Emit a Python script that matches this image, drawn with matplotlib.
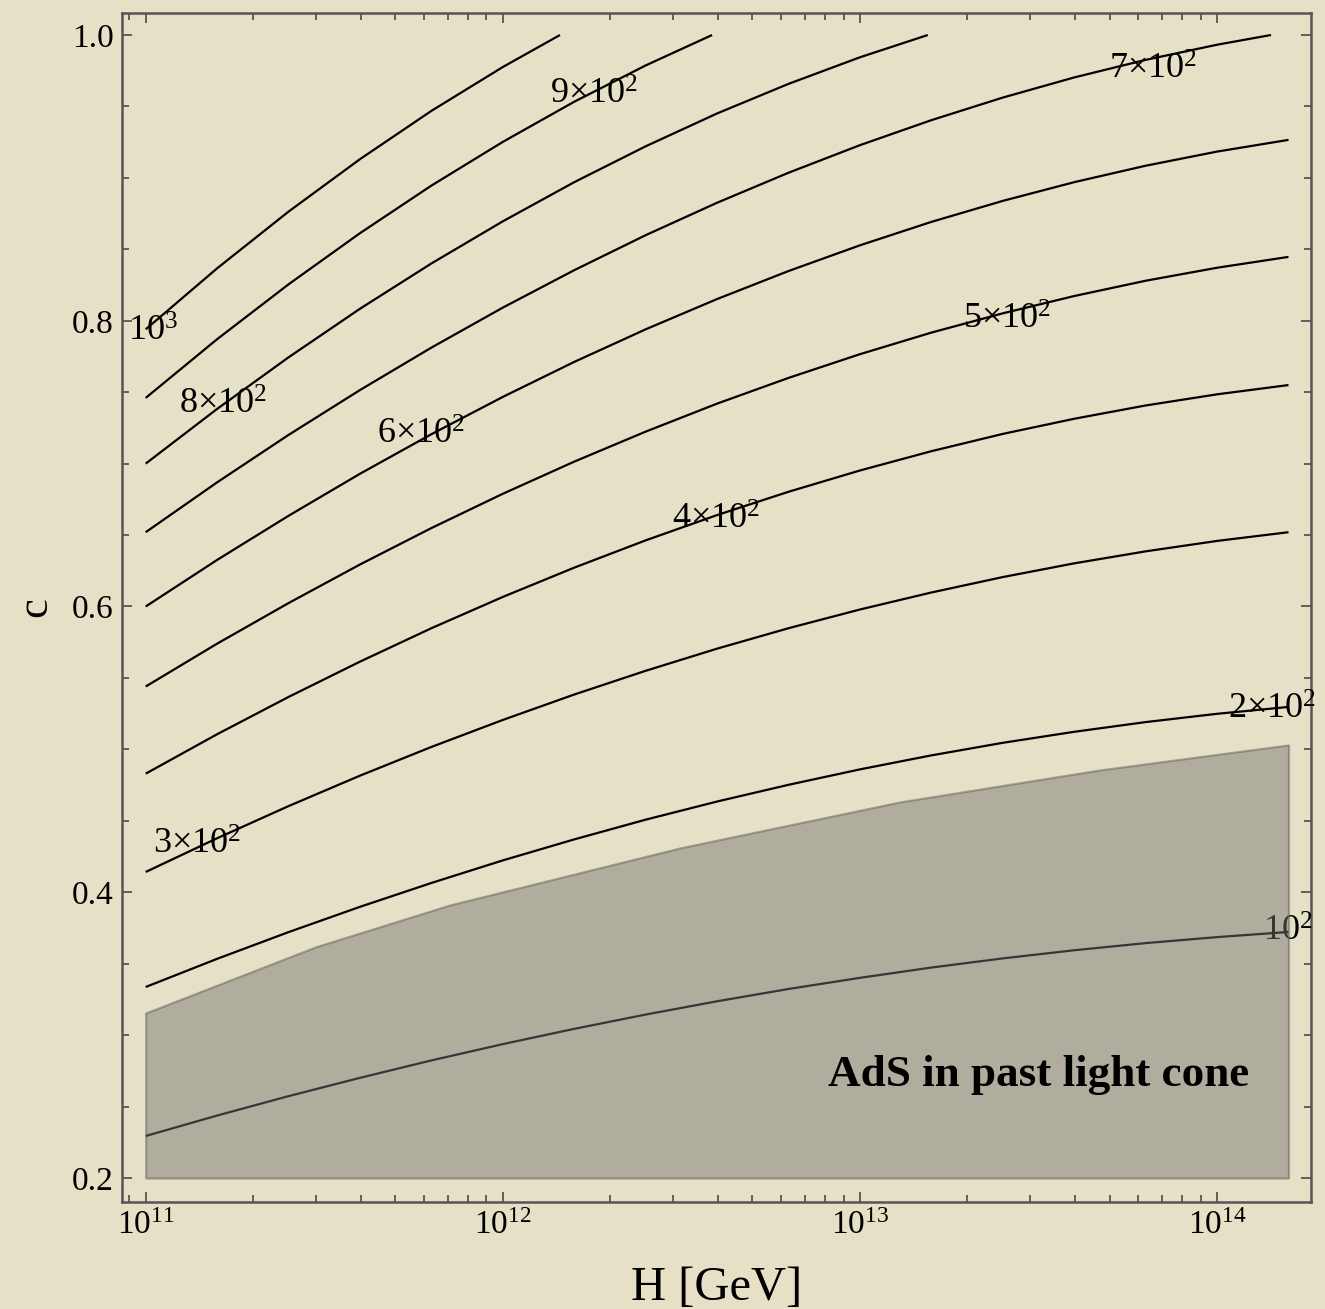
import matplotlib
matplotlib.use('Agg')
import numpy as np
import matplotlib.pyplot as plt
from matplotlib.ticker import FixedLocator, NullFormatter, MultipleLocator, FixedFormatter

plt.rcParams['font.family'] = ['Liberation Serif', 'DejaVu Serif']
plt.rcParams['mathtext.fontset'] = 'custom'
plt.rcParams['mathtext.rm'] = 'Liberation Serif'
plt.rcParams['mathtext.it'] = 'Liberation Serif:italic'
plt.rcParams['mathtext.bf'] = 'Liberation Serif:bold'

# ---- data (log10 H [GeV], c) ----
logH_grid = [11.0, 11.2, 11.4, 11.6, 11.8, 12.0, 12.2, 12.4, 12.6, 12.8,
             13.0, 13.2, 13.4, 13.6, 13.8, 14.0, 14.2]

logH_1000 = [11.0, 11.2, 11.4, 11.6, 11.8, 12.0, 12.16]
c_1000 = [0.794, 0.8367, 0.8764, 0.9131, 0.9469, 0.9776, 1.0]

logH_900 = [11.0, 11.2, 11.4, 11.6, 11.8, 12.0, 12.2, 12.4, 12.586]
c_900 = [0.746, 0.7871, 0.8255, 0.8613, 0.8946, 0.9252, 0.9533, 0.9787, 1.0]

logH_800 = [11.0, 11.2, 11.4, 11.6, 11.8, 12.0, 12.2, 12.4, 12.6, 12.8, 13.0, 13.19]
c_800 = [0.700, 0.7383, 0.7744, 0.8084, 0.8401, 0.8696, 0.8970, 0.9221, 0.9451,
         0.9658, 0.9844, 1.0]

logH_700 = [11.0, 11.2, 11.4, 11.6, 11.8, 12.0, 12.2, 12.4, 12.6, 12.8,
            13.0, 13.2, 13.4, 13.6, 13.8, 14.0, 14.151]
c_700 = [0.652, 0.6869, 0.7201, 0.7515, 0.7812, 0.8092, 0.8354, 0.8599, 0.8826,
         0.9036, 0.9229, 0.9404, 0.9562, 0.9703, 0.9826, 0.9932, 1.0]

c_600 = [0.600, 0.6326, 0.6635, 0.6929, 0.7206, 0.7467, 0.7712, 0.7940, 0.8152,
         0.8348, 0.8528, 0.8692, 0.8839, 0.8970, 0.9085, 0.9184, 0.9266]
c_500 = [0.544, 0.5740, 0.6024, 0.6294, 0.6549, 0.6789, 0.7014, 0.7224, 0.7420,
         0.7600, 0.7766, 0.7917, 0.8052, 0.8173, 0.8280, 0.8371, 0.8447]
c_400 = [0.483, 0.5106, 0.5367, 0.5614, 0.5848, 0.6067, 0.6272, 0.6463, 0.6640,
         0.6803, 0.6952, 0.7087, 0.7208, 0.7314, 0.7407, 0.7485, 0.7550]
c_300 = [0.4142, 0.4378, 0.4603, 0.4816, 0.5017, 0.5206, 0.5384, 0.5550, 0.5705,
         0.5848, 0.5979, 0.6098, 0.6206, 0.6302, 0.6386, 0.6459, 0.6520]
c_200 = [0.3337, 0.3534, 0.3721, 0.3898, 0.4065, 0.4223, 0.4370, 0.4508, 0.4635,
         0.4752, 0.4860, 0.4958, 0.5046, 0.5123, 0.5191, 0.5249, 0.5297]
c_100 = [0.2294, 0.2437, 0.2573, 0.2701, 0.2823, 0.2937, 0.3044, 0.3144, 0.3237,
         0.3323, 0.3401, 0.3473, 0.3537, 0.3594, 0.3644, 0.3686, 0.3722]

# AdS region upper boundary
logH_ads = [11.0, 11.475, 11.852, 12.496, 13.112, 13.672, 14.2]
c_ads = [0.3155, 0.3617, 0.3911, 0.431, 0.4632, 0.4856, 0.5031]
c_ads_floor = 0.2

# contour labels: text, log10 H, c
label_texts = [r'10$^3$', r'9×10$^2$', r'8×10$^2$', r'7×10$^2$',
               r'6×10$^2$', r'5×10$^2$', r'4×10$^2$',
               r'3×10$^2$', r'2×10$^2$', r'10$^2$']
label_logH = [11.02, 12.256, 11.216, 13.82, 11.77, 13.413, 12.598, 11.143, 14.155, 14.197]
label_c = [0.792, 0.958, 0.741, 0.9756, 0.720, 0.8006, 0.6606, 0.433, 0.5276, 0.372]

x_ticks = [1e11, 1e12, 1e13, 1e14]
x_ticklabels = [r'$10^{11}$', r'$10^{12}$', r'$10^{13}$', r'$10^{14}$']
y_ticks = [0.2, 0.4, 0.6, 0.8, 1.0]
y_ticklabels = ['0.2', '0.4', '0.6', '0.8', '1.0']

bg = '#e6e0c6'

fig = plt.figure(figsize=(13.25, 13.09), dpi=100, facecolor=bg)
ax = fig.add_axes([122/1325, 1 - 1202/1309, (1311-122)/1325, (1202-13)/1309])
ax.set_facecolor(bg)
ax.set_xscale('log')

curves = [(logH_1000, c_1000), (logH_900, c_900), (logH_800, c_800), (logH_700, c_700),
          (logH_grid, c_600), (logH_grid, c_500), (logH_grid, c_400),
          (logH_grid, c_300), (logH_grid, c_200), (logH_grid, c_100)]
for lh, cc in curves:
    ax.plot(10 ** np.array(lh), cc, color='black', lw=1.6, zorder=2, solid_capstyle='butt')

for t, lh, cc in zip(label_texts, label_logH, label_c):
    ax.text(10 ** lh, cc, t, fontsize=26, ha='center', va='center', color='black', zorder=3)

ax.fill_between(10 ** np.array(logH_ads), c_ads_floor, c_ads, facecolor='#747474',
                edgecolor='#5a5a55', alpha=0.47, lw=1.6, zorder=4)

ax.text(10 ** 13.499, 0.272, 'AdS in past light cone', fontsize=32.5, fontweight='bold',
        ha='center', va='center', color='black', zorder=5)

ax.set_xlim(10 ** 10.9336, 10 ** 14.263)
ax.set_ylim(0.1832, 1.0154)

ax.xaxis.set_major_locator(FixedLocator(x_ticks))
ax.xaxis.set_major_formatter(FixedFormatter(x_ticklabels))
minor_x = [m * 10 ** e for e in range(10, 15) for m in range(2, 10)]
ax.xaxis.set_minor_locator(FixedLocator(minor_x))
ax.xaxis.set_minor_formatter(NullFormatter())
ax.yaxis.set_major_locator(FixedLocator(y_ticks))
ax.yaxis.set_major_formatter(FixedFormatter(y_ticklabels))
ax.yaxis.set_minor_locator(MultipleLocator(0.05))

ax.tick_params(which='both', direction='in', top=True, right=True, color='#555555',
               labelsize=24, width=1.3)
ax.tick_params(which='major', length=7, pad=6)
ax.tick_params(which='minor', length=5)
for s in ax.spines.values():
    s.set_color('#555555')
    s.set_linewidth(1.8)

ax.set_xlabel('H [GeV]', fontsize=35, labelpad=18)
ax.set_ylabel('c', fontsize=32, labelpad=12)

fig.savefig('out.png', dpi=100, facecolor=bg)
